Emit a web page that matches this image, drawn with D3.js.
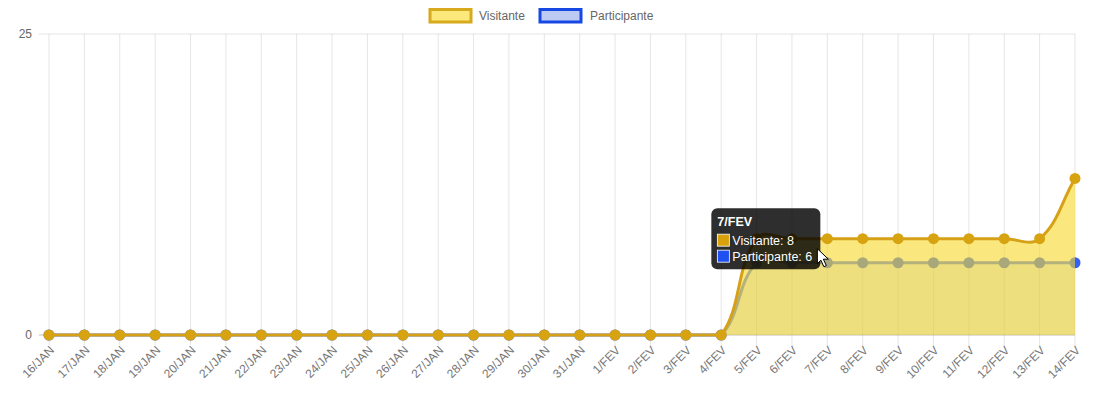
<!DOCTYPE html>
<html><head><meta charset="utf-8">
<script src="https://cdn.jsdelivr.net/npm/d3@7"></script>
<style>
html,body{margin:0;padding:0;background:#fff;}
svg{display:block;font-family:Arial,"Liberation Sans",Helvetica,sans-serif;}
</style></head>
<body>
<svg id="chart" width="1098" height="401"></svg>
<script>
const labels = ['16/JAN','17/JAN','18/JAN','19/JAN','20/JAN','21/JAN','22/JAN','23/JAN','24/JAN','25/JAN','26/JAN','27/JAN','28/JAN','29/JAN','30/JAN','31/JAN','1/FEV','2/FEV','3/FEV','4/FEV','5/FEV','6/FEV','7/FEV','8/FEV','9/FEV','10/FEV','11/FEV','12/FEV','13/FEV','14/FEV'];
const visitante = [0,0,0,0,0,0,0,0,0,0,0,0,0,0,0,0,0,0,0,0,8,8,8,8,8,8,8,8,8,13];
const participante = [0,0,0,0,0,0,0,0,0,0,0,0,0,0,0,0,0,0,0,0,6,6,6,6,6,6,6,6,6,6];
const yTicks = [0, 25];
const yDomain = [0, 25];
const seriesNames = ['Visitante', 'Participante'];
const hoverIndex = 22;

const W = 1098, H = 401;
const m = {left: 49, right: 23, top: 34, bottom: 66};
const svg = d3.select('#chart');
const x = d3.scalePoint().domain(labels).range([m.left, W - m.right]);
const y = d3.scaleLinear().domain(yDomain).range([H - m.bottom, m.top]);
const area = {left: m.left, right: W - m.right, top: m.top, bottom: H - m.bottom};

const styles = {
  Visitante: {line: 'rgb(214,161,22)', point: 'rgb(216,163,16)', fill: 'rgba(246,216,42,0.6)', legendFill: '#fbe97c', legendStroke: '#d6aa1c', box: '#d9a10c'},
  Participante: {line: 'rgb(80,118,250)', point: 'rgb(52,96,246)', fill: 'rgba(60,100,240,0.15)', legendFill: '#bccaf4', legendStroke: '#1848e4', box: '#1f50f2'}
};

// grid
const g = svg.append('g');
labels.forEach(l => {
  g.append('line').attr('x1', x(l)).attr('x2', x(l)).attr('y1', area.top).attr('y2', area.bottom + 10)
    .attr('stroke', 'rgba(0,0,0,0.1)').attr('stroke-width', 1);
});
yTicks.forEach(t => {
  g.append('line').attr('x1', area.left - 10).attr('x2', area.right).attr('y1', y(t)).attr('y2', y(t))
    .attr('stroke', t === 0 ? 'rgba(0,0,0,0.25)' : 'rgba(0,0,0,0.1)').attr('stroke-width', 1);
  g.append('text').attr('x', area.left - 17).attr('y', y(t)).attr('dy', '0.35em')
    .attr('text-anchor', 'end').attr('fill', '#666').attr('font-size', 12).text(t);
});
// x labels
labels.forEach(l => {
  g.append('text').attr('transform', `translate(${x(l) + 3},${area.bottom + 13}) rotate(-45)`)
    .attr('text-anchor', 'end').attr('dy', '0.35em').attr('fill', '#777').attr('font-size', 12).text(l);
});

// Chart.js style spline
function spline(vals) {
  const pts = vals.map((v, i) => ({x: x(labels[i]), y: y(v)}));
  const t = 0.4;
  const cap = (p) => ({x: Math.max(area.left, Math.min(area.right, p.x)), y: Math.max(area.top, Math.min(area.bottom, p.y))});
  pts.forEach((p, i) => {
    const prev = pts[i - 1] || p, next = pts[i + 1] || p;
    const d01 = Math.hypot(p.x - prev.x, p.y - prev.y);
    const d12 = Math.hypot(next.x - p.x, next.y - p.y);
    let s01 = d01 / (d01 + d12), s12 = d12 / (d01 + d12);
    if (isNaN(s01)) s01 = 0; if (isNaN(s12)) s12 = 0;
    const fa = t * s01, fb = t * s12;
    p.cp1 = cap({x: p.x - fa * (next.x - prev.x), y: p.y - fa * (next.y - prev.y)});
    p.cp2 = cap({x: p.x + fb * (next.x - prev.x), y: p.y + fb * (next.y - prev.y)});
  });
  return pts;
}
function linePath(pts) {
  const p = d3.path();
  p.moveTo(pts[0].x, pts[0].y);
  for (let i = 1; i < pts.length; i++) {
    p.bezierCurveTo(pts[i - 1].cp2.x, pts[i - 1].cp2.y, pts[i].cp1.x, pts[i].cp1.y, pts[i].x, pts[i].y);
  }
  return p;
}
function areaPath(pts) {
  const p = linePath(pts);
  p.lineTo(pts[pts.length - 1].x, y(0));
  p.lineTo(pts[0].x, y(0));
  p.closePath();
  return p.toString();
}

const data = {Visitante: visitante, Participante: participante};
// draw in reverse order (Participante first)
['Participante', 'Visitante'].forEach(name => {
  const s = styles[name];
  const pts = spline(data[name]);
  const dg = svg.append('g');
  dg.append('path').attr('d', areaPath(pts)).attr('fill', s.fill);
  dg.append('path').attr('d', linePath(pts).toString()).attr('fill', 'none').attr('stroke', s.line).attr('stroke-width', 3);
  dg.selectAll('circle').data(data[name]).join('circle')
    .attr('cx', (d, i) => x(labels[i])).attr('cy', d => y(d)).attr('r', 5.5)
    .attr('fill', s.point);
});

// legend
const legendItems = [{name: 'Visitante', bx: 430, tx: 479}, {name: 'Participante', bx: 540, tx: 590}];
legendItems.forEach(it => {
  const s = styles[it.name];
  svg.append('rect').attr('x', it.bx).attr('y', 9.5).attr('width', 41).attr('height', 12.5)
    .attr('fill', s.legendFill).attr('stroke', s.legendStroke).attr('stroke-width', 3);
  svg.append('text').attr('x', it.tx).attr('y', 16).attr('dy', '0.35em').attr('fill', '#666')
    .attr('font-size', 12).text(it.name);
});

// tooltip
const hx = x(labels[hoverIndex]), hy = y(visitante[hoverIndex]);
const tw = 109, th = 61;
const tx0 = hx - 7 - tw, ty0 = hy - th / 2;
const tt = svg.append('g');
tt.append('rect').attr('x', tx0).attr('y', ty0).attr('width', tw).attr('height', th).attr('rx', 6)
  .attr('fill', 'rgba(0,0,0,0.82)');
tt.append('text').attr('x', tx0 + 6).attr('y', ty0 + 18).attr('fill', '#fff').attr('font-size', 12.5)
  .attr('font-weight', 'bold').text(labels[hoverIndex]);
const vals = [visitante[hoverIndex], participante[hoverIndex]];
seriesNames.forEach((n, i) => {
  const yy = ty0 + 26 + i * 16;
  tt.append('rect').attr('x', tx0 + 6).attr('y', yy).attr('width', 12).attr('height', 12)
    .attr('fill', styles[n].box).attr('stroke', '#fff').attr('stroke-width', 0.8);
  tt.append('text').attr('x', tx0 + 21).attr('y', yy + 11).attr('fill', '#fff').attr('font-size', 12.5)
    .text(`${n}: ${vals[i]}`);
});
// mouse cursor
svg.append('path').attr('transform', `translate(${hx - 10},${hy + 10})`)
  .attr('d', 'M0,0 L0,15 L3.5,11.5 L6.5,18 L9,17 L6,10.5 L11,10.5 Z')
  .attr('fill', '#fff').attr('stroke', '#000').attr('stroke-width', 1);
</script>
</body></html>
